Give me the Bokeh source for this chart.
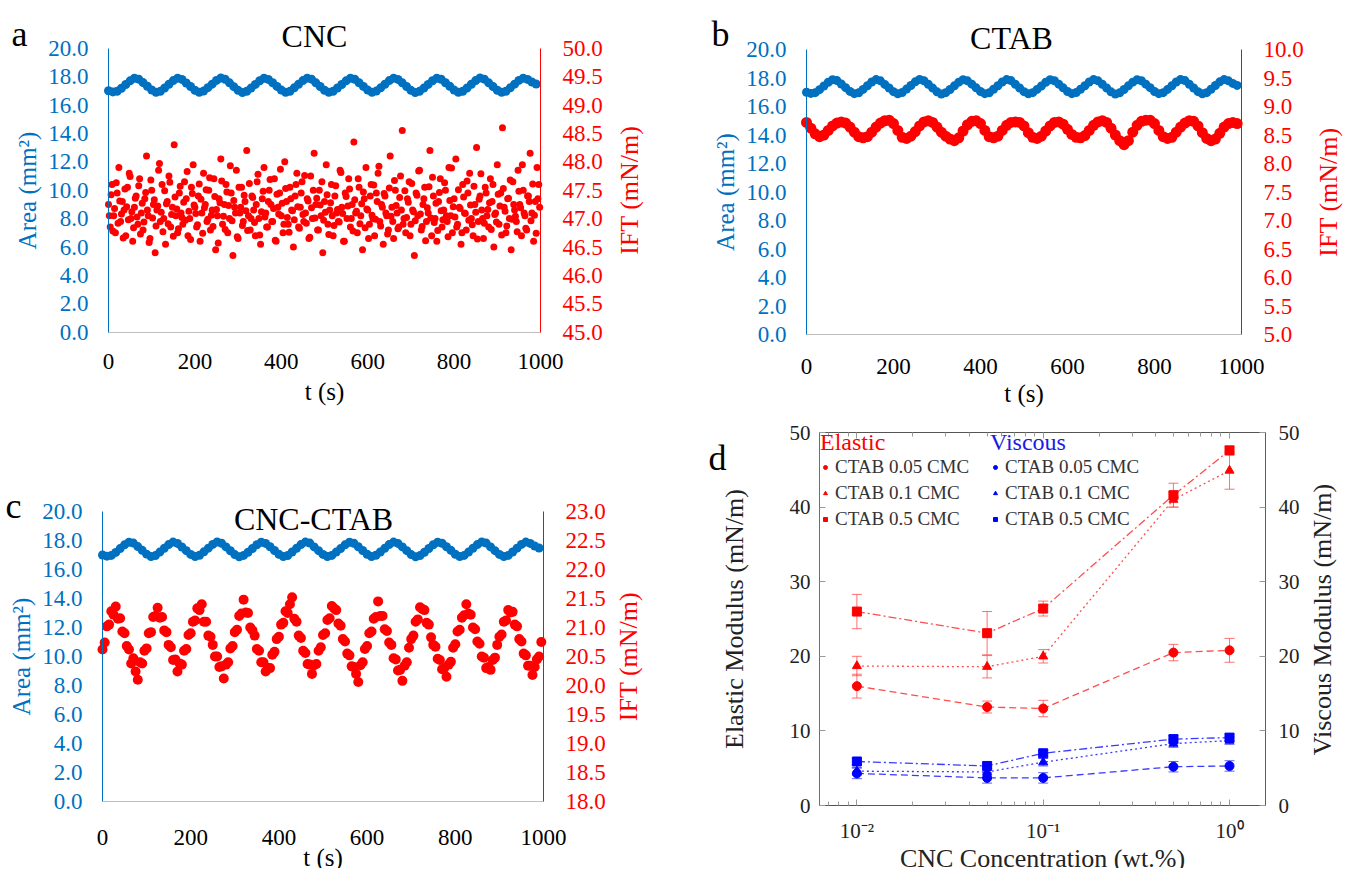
import numpy as np
from bokeh.plotting import figure
from bokeh.models import (Range1d, LinearAxis, LogAxis, FixedTicker, PrintfTickFormatter,
                          Label, Legend, LegendItem, Whisker, TeeHead, ColumnDataSource)
from bokeh.layouts import row, column
from bokeh.embed import file_html
from bokeh.resources import INLINE

FONT = "Liberation Serif"
BLUE = "#0070C0"
RED = "#FF0000"

# ---------------- data: oscillating drop (panels a-c) ----------------
t_area = np.arange(0, 1000, 10)
area = [17.00, 16.92, 16.97, 17.18, 17.44, 17.70, 17.88, 17.82, 17.58, 17.32,
        17.06, 16.90, 16.96, 17.20, 17.46, 17.72, 17.89, 17.80, 17.55, 17.30,
        17.04, 16.89, 16.98, 17.22, 17.47, 17.73, 17.90, 17.81, 17.56, 17.29,
        17.03, 16.88, 16.97, 17.19, 17.45, 17.71, 17.88, 17.80, 17.57, 17.31,
        17.05, 16.90, 16.96, 17.21, 17.46, 17.72, 17.89, 17.82, 17.56, 17.30,
        17.04, 16.89, 16.97, 17.20, 17.44, 17.70, 17.88, 17.81, 17.57, 17.31,
        17.05, 16.90, 16.98, 17.21, 17.46, 17.72, 17.89, 17.80, 17.56, 17.30,
        17.03, 16.88, 16.96, 17.19, 17.45, 17.71, 17.88, 17.81, 17.57, 17.32,
        17.05, 16.90, 16.97, 17.20, 17.46, 17.72, 17.90, 17.82, 17.56, 17.30,
        17.04, 16.89, 16.97, 17.21, 17.47, 17.73, 17.89, 17.80, 17.62, 17.48]

t_cnc = np.arange(0, 1000, 4)
ift_cnc = [47.25, 46.85, 47.60, 47.05, 46.75, 47.45, 47.90, 46.95, 47.30, 47.15,
           46.70, 47.55, 47.80, 47.00, 46.60, 47.20, 47.40, 46.90, 47.70, 47.10,
           46.80, 47.35, 48.10, 47.05, 46.65, 47.50, 47.25, 46.40, 47.15, 47.85,
           46.95, 47.60, 47.00, 46.55, 47.30, 47.75, 46.85, 47.20, 48.30, 47.05,
           46.75, 47.45, 47.10, 46.90, 47.65, 47.35, 46.70, 47.00, 47.55, 47.95,
           47.20, 46.85, 47.40, 46.60, 47.10, 47.80, 47.25, 46.95, 47.50, 46.80,
           47.15, 47.70, 46.45, 47.05, 47.35, 48.05, 46.90, 47.25, 47.60, 46.75,
           47.00, 47.45, 46.35, 47.20, 47.85, 46.65, 47.10, 47.55, 46.95, 47.30,
           48.20, 47.05, 46.80, 47.40, 47.15, 46.70, 47.65, 47.00, 46.55, 47.35,
           47.90, 47.10, 46.85, 47.50, 47.25, 46.95, 47.70, 46.60, 47.20, 47.45,
           47.05, 46.75, 48.00, 47.30, 46.90, 47.55, 47.15, 46.50, 47.40, 47.80,
           46.85, 47.20, 47.65, 46.95, 47.10, 47.35, 46.65, 47.75, 47.00, 48.15,
           47.25, 46.80, 47.50, 47.05, 46.40, 47.30, 47.95, 46.90, 47.15, 47.60,
           46.70, 47.40, 47.10, 46.95, 47.85, 47.20, 46.60, 47.45, 47.00, 47.70,
           46.85, 47.25, 48.35, 47.10, 46.75, 47.55, 47.05, 46.45, 47.35, 47.90,
           47.15, 46.90, 47.60, 47.00, 46.70, 47.45, 47.80, 46.95, 47.25, 46.55,
           47.40, 47.05, 46.80, 48.10, 47.20, 46.65, 47.50, 47.10, 46.85, 47.75,
           48.55, 47.00, 46.75, 47.35, 47.65, 46.90, 47.15, 46.35, 47.45, 47.05,
           47.85, 46.80, 47.25, 47.55, 46.95, 47.10, 48.20, 46.70, 47.40, 47.00,
           46.60, 47.30, 47.70, 46.85, 47.15, 47.50, 46.95, 47.90, 47.05, 46.75,
           47.35, 48.05, 46.90, 47.20, 46.55, 47.60, 47.10, 46.80, 47.45, 47.80,
           47.00, 46.70, 47.25, 48.25, 46.95, 47.40, 47.15, 46.65, 47.55, 47.05,
           46.85, 47.70, 47.30, 46.50, 47.10, 47.95, 46.90, 47.45, 48.60, 47.20,
           46.75, 47.35, 47.00, 46.45, 47.65, 47.15, 46.95, 47.85, 47.25, 46.70,
           47.50, 47.05, 46.80, 47.40, 48.15, 47.10, 46.60, 47.30, 47.90, 47.60]

t_cnc2 = np.arange(2, 1000, 4)
ift_cnc2 = [47.05, 47.42, 46.78, 47.18, 47.63, 46.92, 47.31, 47.08, 46.66, 47.52,
            47.21, 46.98, 47.74, 47.12, 46.84, 47.36, 47.03, 47.58, 46.73, 47.27,
            46.94, 47.46, 47.15, 46.58, 47.68, 47.01, 47.33, 46.87, 47.22, 47.97,
            47.11, 46.77, 47.49, 47.26, 46.91, 47.64, 47.07, 46.69, 47.38, 47.17,
            46.82, 47.57, 47.02, 47.29, 46.97, 47.83, 47.13, 46.63, 47.44, 47.24,
            47.09, 46.89, 47.61, 47.34, 46.74, 47.19, 47.51, 46.99, 47.72, 47.06,
            46.86, 47.39, 47.16, 46.57, 47.28, 47.66, 47.04, 46.81, 47.47, 47.23,
            47.93, 46.96, 47.32, 47.10, 46.68, 47.55, 47.20, 46.88, 47.41, 47.14,
            46.79, 47.62, 47.00, 47.37, 46.93, 47.25, 47.78, 46.71, 47.12, 47.48,
            47.03, 46.85, 47.30, 47.69, 46.95, 47.18, 46.62, 47.43, 47.08, 47.87,
            47.27, 46.90, 47.53, 47.02, 46.76, 47.35, 47.14, 46.98, 47.60, 47.21,
            46.83, 47.45, 47.07, 47.76, 46.92, 47.31, 46.67, 47.19, 47.50, 47.01,
            47.36, 46.80, 47.24, 47.65, 46.97, 47.11, 47.42, 46.72, 47.28, 47.05,
            46.88, 47.58, 47.16, 46.94, 47.81, 47.09, 46.60, 47.39, 47.22, 47.52,
            47.00, 46.78, 47.33, 47.13, 47.70, 46.91, 47.26, 47.47, 46.84, 47.17,
            46.65, 47.40, 47.06, 47.59, 46.99, 47.30, 47.92, 46.87, 47.20, 47.44,
            47.10, 46.73, 47.54, 47.04, 46.95, 47.67, 47.23, 46.82, 47.37, 47.15,
            46.90, 47.49, 47.02, 47.29, 46.70, 47.62, 47.12, 46.96, 47.41, 47.84,
            47.08, 46.86, 47.35, 46.61, 47.19, 47.56, 47.01, 47.73, 46.93, 47.27,
            46.79, 47.46, 47.14, 46.98, 47.63, 47.05, 46.68, 47.32, 47.89, 47.21,
            47.03, 46.85, 47.51, 47.18, 46.75, 47.38, 47.09, 47.66, 46.97, 47.24,
            46.89, 47.57, 47.11, 46.64, 47.34, 47.79, 47.00, 46.92, 47.45, 47.16,
            47.28, 46.81, 47.60, 47.07, 46.94, 47.43, 47.22, 46.71, 47.53, 47.13,
            46.87, 47.36, 47.68, 46.99, 47.25, 47.04, 46.77, 47.48, 47.19, 47.95,
            47.10, 46.83, 47.40, 47.30, 46.96, 47.61, 47.06, 46.74, 47.35, 47.20]

t_ctab = np.arange(0, 1000, 10)
ift_ctab = [8.72, 8.62, 8.52, 8.47, 8.50, 8.58, 8.66, 8.71, 8.73, 8.71,
            8.64, 8.55, 8.47, 8.45, 8.47, 8.55, 8.64, 8.71, 8.75, 8.76,
            8.70, 8.58, 8.46, 8.44, 8.48, 8.56, 8.66, 8.73, 8.75, 8.72,
            8.64, 8.55, 8.48, 8.43, 8.40, 8.45, 8.57, 8.68, 8.74, 8.75,
            8.70, 8.58, 8.47, 8.45, 8.48, 8.58, 8.67, 8.72, 8.73, 8.72,
            8.66, 8.54, 8.46, 8.44, 8.48, 8.57, 8.66, 8.72, 8.73, 8.69,
            8.60, 8.51, 8.46, 8.45, 8.49, 8.58, 8.67, 8.73, 8.75, 8.72,
            8.62, 8.50, 8.40, 8.33, 8.40, 8.55, 8.67, 8.74, 8.76, 8.76,
            8.70, 8.58, 8.47, 8.44, 8.46, 8.55, 8.64, 8.71, 8.75, 8.74,
            8.66, 8.54, 8.44, 8.40, 8.43, 8.53, 8.64, 8.70, 8.72, 8.70]

t_mix = np.arange(0, 1000, 5)
ift_mix = [20.62, 20.74, 21.02, 21.05, 21.28, 21.22, 21.36, 21.15, 21.16, 20.93,
           20.90, 20.68, 20.62, 20.38, 20.47, 20.24, 20.10, 20.40, 20.38, 20.60,
           20.64, 20.90, 20.92, 21.18, 21.20, 21.34, 21.17, 21.18, 20.95, 20.92,
           20.70, 20.66, 20.44, 20.45, 20.24, 20.38, 20.36, 20.60, 20.63, 20.87,
           20.90, 21.10, 21.12, 21.33, 21.30, 21.40, 21.10, 21.10, 20.86, 20.84,
           20.70, 20.50, 20.50, 20.32, 20.33, 20.12, 20.36, 20.40, 20.64, 20.68,
           20.92, 20.96, 21.20, 21.24, 21.48, 21.26, 21.25, 21.00, 20.95, 20.86,
           20.63, 20.60, 20.40, 20.40, 20.24, 20.30, 20.30, 20.53, 20.58, 20.80,
           20.84, 21.05, 21.08, 21.28, 21.25, 21.40, 21.52, 21.15, 21.10, 20.86,
           20.82, 20.60, 20.56, 20.37, 20.36, 20.20, 20.35, 20.37, 20.60, 20.66,
           20.87, 20.90, 21.13, 21.16, 21.37, 21.33, 21.30, 21.07, 21.03, 20.80,
           20.76, 20.55, 20.52, 20.33, 20.32, 20.20, 20.06, 20.35, 20.40, 20.63,
           20.68, 20.90, 20.93, 21.15, 21.18, 21.45, 21.20, 21.20, 20.97, 20.94,
           20.74, 20.70, 20.47, 20.45, 20.26, 20.27, 20.08, 20.34, 20.40, 20.65,
           20.80, 20.86, 21.10, 21.14, 21.35, 21.32, 21.30, 21.08, 21.05, 20.83,
           20.70, 20.67, 20.46, 20.44, 20.28, 20.30, 20.15, 20.36, 20.41, 20.65,
           20.71, 20.93, 20.96, 21.17, 21.21, 21.40, 21.24, 21.22, 21.00, 20.97,
           20.76, 20.72, 20.50, 20.48, 20.30, 20.32, 20.27, 20.44, 20.48, 20.70,
           20.84, 20.88, 21.10, 21.12, 21.30, 21.26, 21.27, 21.05, 21.02, 20.80,
           20.76, 20.55, 20.52, 20.34, 20.34, 20.18, 20.32, 20.45, 20.50, 20.75]

x_ticks = [0, 200, 400, 600, 800, 1000]
area_ticks = [0, 2, 4, 6, 8, 10, 12, 14, 16, 18, 20]
ift_ticks_a = [45.0, 45.5, 46.0, 46.5, 47.0, 47.5, 48.0, 48.5, 49.0, 49.5, 50.0]
ift_ticks_b = [5.0, 5.5, 6.0, 6.5, 7.0, 7.5, 8.0, 8.5, 9.0, 9.5, 10.0]
ift_ticks_c = [18.0, 18.5, 19.0, 19.5, 20.0, 20.5, 21.0, 21.5, 22.0, 22.5, 23.0]

# ---------------- data: moduli (panel d) ----------------
conc = [0.01, 0.05, 0.1, 0.5, 1.0]
el_005 = [16.0, 13.2, 13.0, 20.5, 20.8]
el_005_err = [1.6, 0.8, 1.1, 1.1, 1.6]
el_01 = [18.7, 18.6, 20.0, 41.0, 44.9]
el_01_err = [1.3, 1.5, 0.9, 1.0, 2.5]
el_05 = [26.0, 23.1, 26.4, 41.6, 47.6]
el_05_err = [2.3, 2.9, 1.0, 1.6, 0.6]
vi_005 = [4.3, 3.7, 3.7, 5.2, 5.3]
vi_005_err = [0.7, 0.7, 0.7, 0.7, 0.7]
vi_01 = [4.6, 4.5, 5.8, 8.3, 8.7]
vi_01_err = [0.5, 0.5, 0.5, 0.5, 0.5]
vi_05 = [5.9, 5.3, 7.0, 8.9, 9.1]
vi_05_err = [0.4, 0.4, 0.4, 0.5, 0.5]
mod_ticks = [0, 10, 20, 30, 40, 50]
log_major = [0.01, 0.1, 1.0]
log_minor = [0.007, 0.008, 0.009, 0.02, 0.03, 0.04, 0.05, 0.06, 0.07, 0.08, 0.09,
             0.2, 0.3, 0.4, 0.5, 0.6, 0.7, 0.8, 0.9]


# ---------------- geometry helpers (layout only) ----------------
class Geo:
    """Maps page pixels to data coordinates for a figure whose frame fills the canvas."""
    def __init__(self, ox, oy, w, h, fl, fr, ft, fb, x0, x1, y0, y1, logx=False):
        self.ox, self.oy, self.w, self.h = ox, oy, w, h
        self.logx = logx
        lx0, lx1 = (np.log10(x0), np.log10(x1)) if logx else (x0, x1)
        fl, fr, ft, fb = fl - ox, fr - ox, ft - oy, fb - oy
        self.kx = (lx1 - lx0) / (fr - fl)
        self.ky = (y1 - y0) / (fb - ft)
        self.lx0, self.fl, self.y1, self.ft = lx0, fl, y1, ft
        xs, xe = lx0 - fl * self.kx, lx0 + (w - fl) * self.kx
        if logx:
            xs, xe = 10 ** xs, 10 ** xe
        self.xs, self.xe = xs, xe
        self.ye = y1 + ft * self.ky
        self.ys = y0 - (h - fb) * self.ky

    def x(self, px):
        v = self.lx0 + (px - self.ox - self.fl) * self.kx
        return 10 ** v if self.logx else v

    def y(self, py):
        return self.y1 - (py - self.oy - self.ft) * self.ky


def base_fig(g):
    p = figure(width=g.w, height=g.h, x_range=Range1d(g.xs, g.xe), y_range=Range1d(g.ys, g.ye),
               x_axis_type="log" if g.logx else "linear",
               output_backend="svg", toolbar_location=None, title=None,
               min_border_left=0, min_border_right=0, min_border_top=0, min_border_bottom=0)
    p.xgrid.visible = False
    p.ygrid.visible = False
    p.outline_line_color = None
    return p


def no_ticks(ax):
    ax.major_tick_in = 0
    ax.major_tick_out = 0
    ax.minor_tick_in = 0
    ax.minor_tick_out = 0


def add_text(p, x, y, text, size, color="black", align="left", baseline="alphabetic", angle=0.0):
    p.add_layout(Label(x=x, y=y, text=text, text_font=FONT, text_font_size=size,
                       text_color=color, text_align=align, text_baseline=baseline, angle=angle))


def time_panel(g, ift_rng, ift_ticks, series, letter, letter_px, title, title_px, ift_lab_px,
               xstand, xlab_stand):
    p = base_fig(g)
    i0, i1 = ift_rng
    conv = lambda v: i0 + v * (i1 - i0) / 20.0
    p.extra_y_ranges = {"ift": Range1d(conv(g.ys), conv(g.ye))}

    xa = p.xaxis[0]
    xa.fixed_location = 0
    xa.bounds = (0, 1000)
    xa.ticker = FixedTicker(ticks=x_ticks)
    xa.axis_line_color = "#BFBFBF"
    no_ticks(xa)
    xa.major_label_text_font = FONT
    xa.major_label_text_font_size = "23px"
    xa.major_label_text_color = "black"
    xa.major_label_standoff = xstand
    xa.axis_label = "t (s)"
    xa.axis_label_text_font = FONT
    xa.axis_label_text_font_size = "25px"
    xa.axis_label_text_font_style = "normal"
    xa.axis_label_text_color = "black"
    xa.axis_label_standoff = xlab_stand

    ya = p.yaxis[0]
    ya.fixed_location = 0
    ya.bounds = (0, 20)
    ya.ticker = FixedTicker(ticks=area_ticks)
    ya.formatter = PrintfTickFormatter(format="%.1f")
    ya.axis_line_color = BLUE
    no_ticks(ya)
    ya.major_label_text_font = FONT
    ya.major_label_text_font_size = "23px"
    ya.major_label_text_color = BLUE
    ya.major_label_standoff = 20
    ya.axis_label = "Area (mm²)"
    ya.axis_label_text_font = FONT
    ya.axis_label_text_font_size = "25px"
    ya.axis_label_text_font_style = "normal"
    ya.axis_label_text_color = BLUE
    ya.axis_label_standoff = 4

    ra = LinearAxis(y_range_name="ift", ticker=FixedTicker(ticks=ift_ticks),
                    formatter=PrintfTickFormatter(format="%.1f"))
    ra.fixed_location = 1000
    ra.bounds = (i0, i1)
    ra.axis_line_color = RED
    no_ticks(ra)
    ra.major_label_text_font = FONT
    ra.major_label_text_font_size = "23px"
    ra.major_label_text_color = RED
    ra.major_label_standoff = 22
    p.add_layout(ra, "right")

    p.scatter(t_area, area, size=9, fill_color=BLUE, line_color=None)
    for t_i, ift, sz in series:
        p.scatter(t_i, ift, size=sz, fill_color=RED, line_color=None, y_range_name="ift")

    add_text(p, g.x(letter_px[0]), g.y(letter_px[1]), letter, "36px")
    add_text(p, g.x(title_px[0]), g.y(title_px[1]), title, "32px", align="center")
    add_text(p, g.x(ift_lab_px[0]), g.y(ift_lab_px[1]), "IFT (mN/m)", "26px", color=RED,
             align="center", baseline="middle", angle=np.pi / 2)
    return p


# figure boxes: (page x, page y, width, height) and frame edges in page pixels
ga = Geo(0, 0, 682, 407, 108, 540, 47.7, 331.7, 0, 1000, 0, 20)
gb = Geo(682, 0, 662, 407, 806, 1241, 49, 334, 0, 1000, 0, 20)
gc = Geo(0, 407, 682, 461, 102, 543, 511, 801, 0, 1000, 0, 20)
gd = Geo(682, 407, 662, 461, 819, 1265, 432, 805, 0.0063, 1.56, 0, 50, logx=True)

pa = time_panel(ga, (45, 50), ift_ticks_a, [(t_cnc, ift_cnc, 7), (t_cnc2, ift_cnc2, 7)],
                "a", (11, 33), "CNC", (314, 35), (629, 189.7), 22, 5)
pb = time_panel(gb, (5, 10), ift_ticks_b, [(t_ctab, ift_ctab, 11)],
                "b", (711, 33), "CTAB", (1011, 37), (1328, 191.5), 24, 3)
pc = time_panel(gc, (18, 23), ift_ticks_c, [(t_mix, ift_mix, 10)],
                "c", (5, 505), "CNC-CTAB", (313, 518), (628, 656), 28, -4)

# ---------------- panel d ----------------
pdm = base_fig(gd)
pdm.extra_y_ranges = {"visc": Range1d(gd.ys, gd.ye)}
x_lo, x_hi = 0.0063, 1.56

TICK = "#9A9A9A"
overrides = {0.01: "10⁻²", 0.1: "10⁻¹", 1.0: "10⁰"}

xa = pdm.xaxis[0]
xa.fixed_location = 0
xa.bounds = (x_lo, x_hi)
xa.ticker = FixedTicker(ticks=log_major, minor_ticks=log_minor)
xa.major_label_overrides = overrides
xa.axis_line_color = "#555555"
xa.major_tick_in = 6
xa.major_tick_out = 0
xa.minor_tick_in = 4
xa.minor_tick_out = 0
xa.major_tick_line_color = TICK
xa.minor_tick_line_color = TICK
xa.major_label_text_font = FONT
xa.major_label_text_font_size = "21px"
xa.major_label_text_color = "#222222"
xa.major_label_standoff = 13
xa.axis_label = "CNC Concentration (wt.%)"
xa.axis_label_text_font = FONT
xa.axis_label_text_font_size = "26px"
xa.axis_label_text_font_style = "normal"
xa.axis_label_text_color = "#222222"
xa.axis_label_standoff = -2

top = LogAxis(ticker=FixedTicker(ticks=log_major, minor_ticks=log_minor),
              major_label_overrides={0.01: "", 0.1: "", 1.0: ""})
top.fixed_location = 50
top.bounds = (x_lo, x_hi)
top.axis_line_color = "#555555"
top.major_tick_in = 6
top.major_tick_out = 0
top.minor_tick_in = 4
top.minor_tick_out = 0
top.major_tick_line_color = TICK
top.minor_tick_line_color = TICK
top.major_label_text_font_size = "1px"
top.major_label_standoff = 0
pdm.add_layout(top, "above")

ya = pdm.yaxis[0]
ya.fixed_location = x_lo
ya.bounds = (0, 50)
ya.ticker = FixedTicker(ticks=mod_ticks)
ya.axis_line_color = "#FF3030"
ya.major_tick_in = 6
ya.major_tick_out = 0
ya.minor_tick_in = 0
ya.minor_tick_out = 0
ya.major_tick_line_color = TICK
ya.major_label_text_font = FONT
ya.major_label_text_font_size = "21px"
ya.major_label_text_color = "#222222"
ya.major_label_standoff = 9
ya.axis_label = "Elastic Modulus (mN/m)"
ya.axis_label_text_font = FONT
ya.axis_label_text_font_size = "26px"
ya.axis_label_text_font_style = "normal"
ya.axis_label_text_color = "#222222"
ya.axis_label_standoff = 38

rax = LinearAxis(y_range_name="visc", ticker=FixedTicker(ticks=mod_ticks))
rax.fixed_location = x_hi
rax.bounds = (0, 50)
rax.axis_line_color = "#4A4AFF"
rax.major_tick_in = 6
rax.major_tick_out = 0
rax.minor_tick_in = 0
rax.minor_tick_out = 0
rax.major_tick_line_color = TICK
rax.major_label_text_font = FONT
rax.major_label_text_font_size = "21px"
rax.major_label_text_color = "#222222"
rax.major_label_standoff = 13
pdm.add_layout(rax, "right")


def add_series(p, y, err, color, lcolor, dash, marker, rng):
    src = ColumnDataSource(dict(x=conc, y=y,
                                lo=[a - b for a, b in zip(y, err)],
                                hi=[a + b for a, b in zip(y, err)]))
    p.line("x", "y", source=src, line_color=lcolor, line_dash=dash, line_width=1.3,
           y_range_name=rng)
    p.add_layout(Whisker(source=src, base="x", lower="lo", upper="hi", line_color=lcolor,
                         line_width=1, line_alpha=0.8, y_range_name=rng,
                         upper_head=TeeHead(size=10, line_color=lcolor, line_width=1, line_alpha=0.8),
                         lower_head=TeeHead(size=10, line_color=lcolor, line_width=1, line_alpha=0.8)))
    return p.scatter("x", "y", source=src, marker=marker, size=9, fill_color=color,
                     line_color=color, y_range_name=rng)


LRED = "#FF4D4D"
LBLUE = "#3A3AFF"
r_e1 = add_series(pdm, el_005, el_005_err, RED, LRED, "7 4", "circle", "default")
r_e2 = add_series(pdm, el_01, el_01_err, RED, LRED, "2 3", "triangle", "default")
r_e3 = add_series(pdm, el_05, el_05_err, RED, LRED, "8 3 2 3", "square", "default")
r_v1 = add_series(pdm, vi_005, vi_005_err, "#0000FF", LBLUE, "7 4", "circle", "visc")
r_v2 = add_series(pdm, vi_01, vi_01_err, "#0000FF", LBLUE, "2 3", "triangle", "visc")
r_v3 = add_series(pdm, vi_05, vi_05_err, "#0000FF", LBLUE, "8 3 2 3", "square", "visc")


def make_legend(title, color, rs, loc):
    lg = Legend(items=[LegendItem(label="CTAB 0.05 CMC", renderers=[rs[0]]),
                       LegendItem(label="CTAB 0.1 CMC", renderers=[rs[1]]),
                       LegendItem(label="CTAB 0.5 CMC", renderers=[rs[2]])],
                title=title, location=loc)
    lg.title_text_font = FONT
    lg.title_text_font_size = "24px"
    lg.title_text_font_style = "normal"
    lg.title_text_color = color
    lg.title_standoff = 0
    lg.label_text_font = FONT
    lg.label_text_font_size = "19px"
    lg.label_text_color = "#333333"
    lg.background_fill_alpha = 0
    lg.border_line_color = None
    lg.padding = 2
    lg.margin = 0
    lg.spacing = 4
    lg.label_height = 20
    lg.glyph_height = 20
    lg.glyph_width = 10
    lg.label_standoff = 5
    return lg


# legend boxes, placed by their lower-left corner in figure pixels
pdm.add_layout(make_legend("Elastic", RED, [r_e1, r_e2, r_e3], (138, 338)))
pdm.add_layout(make_legend("Viscous", "#1A1AE6", [r_v1, r_v2, r_v3], (308, 338)))

add_text(pdm, gd.x(708), gd.y(457), "d", "36px")
add_text(pdm, gd.x(1322), gd.y(619), "Viscous Modulus (mN/m)", "26px", color="#222222",
         align="center", baseline="middle", angle=np.pi / 2)

layout = column(row(pa, pb), row(pc, pdm))
open("out.html", "w").write(file_html(layout, INLINE))
